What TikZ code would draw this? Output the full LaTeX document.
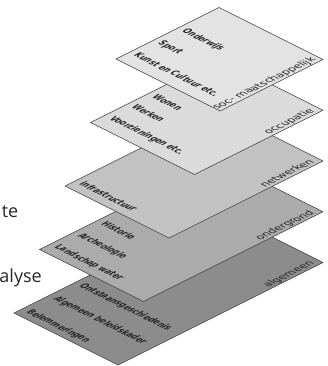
\documentclass[tikz,border=0pt]{standalone}
\usepackage{fontspec}
\setmainfont{Open Sans}
\newfontfamily\platefont{DejaVu Sans Condensed Bold}
\newfontfamily\labelfont{DejaVu Sans}
\usetikzlibrary{calc}
\newcommand{\squeezed}[1]{\scalebox{0.8}[1]{#1}}

\begin{document}
\begin{tikzpicture}[
    x=1pt, y=-1pt,
    plate/.style={draw=black!75, line width=0.6pt, line join=round},
    topic/.style={font=\platefont\fontsize{10.5}{10.5}\selectfont, text=black!85, inner sep=0pt, anchor=base west},
    layer/.style={font=\labelfont\fontsize{10.5}{10.5}\selectfont, text=black!85, inner sep=0pt, anchor=base east},
    margin/.style={font=\fontsize{18}{18}\selectfont, text=black!85, inner sep=0pt, anchor=base east},
    onplate/.style={cm={0.894,-0.447,0.894,0.447,(0,0)}, x=1pt, y=1pt, transform shape},
    onedge/.style={cm={0.894,0.447,-0.894,0.447,(0,0)}, x=1pt, y=1pt, transform shape},
]
\useasboundingbox (0,0) rectangle (328,366);

% corners of the five layers
\foreach \i/\lx/\ly/\ux in {1/116/59/103, 2/90.5/122.5/128.5, 3/65/186/154, 4/39.5/249.5/179.5, 5/14/313/205} {
    \coordinate (L\i) at (\lx,\ly);
    \coordinate (B\i) at ($(L\i)+(104,52)$);
    \coordinate (T\i) at ($(L\i)+(\ux,-\ux/2)$);
    \coordinate (R\i) at ($(B\i)+(\ux,-\ux/2)$);
}

% text cut off at the left
\node[margin] (te) at (18.5,217) {te};
\node[margin] (alyse) at (42,282) {alyse};

% algemeen
\draw[plate, fill=black!45] (L5) -- (B5) -- (R5) -- (T5) -- cycle;
\begin{scope}[shift={(L5)}, onplate]
    \node[topic] (belemmering) at (6,7) {\squeezed{Belemmeringen}};
    \node[topic] (beleid) at (6,37) {\squeezed{Algemeen beleidskader}};
    \node[topic] (ontstaan) at (6,66) {\squeezed{Ontstaansgeschiedenis}};
\end{scope}
\begin{scope}[shift={(R5)}, onedge]
    \node[layer] (algemeen) at (-6,3) {algemeen};
\end{scope}

% ondergrond
\draw[plate, fill=black!33] (L4) -- (B4) -- (R4) -- (T4) -- cycle;
\begin{scope}[shift={(L4)}, onplate]
    \node[topic] (landschap) at (6,10) {\squeezed{Landschap water}};
    \node[topic] (archeo) at (6,36) {\squeezed{Archeologie}};
    \node[topic] (historie) at (6,62) {\squeezed{Historie}};
\end{scope}
\begin{scope}[shift={(R4)}, onedge]
    \node[layer] (ondergrond) at (-6,3) {ondergrond};
\end{scope}

% netwerken
\draw[plate, fill=black!24] (L3) -- (B3) -- (R3) -- (T3) -- cycle;
\begin{scope}[shift={(L3)}, onplate]
    \node[topic] (infra) at (6,9) {\squeezed{infrastructuur}};
\end{scope}
\begin{scope}[shift={(R3)}, onedge]
    \node[layer] (netwerken) at (-6,3) {netwerken};
\end{scope}

% occupatie
\draw[plate, fill=black!14] (L2) -- (B2) -- (R2) -- (T2) -- cycle;
\begin{scope}[shift={(L2)}, onplate]
    \node[topic] (voorz) at (6,14) {\squeezed{Voorzieningen etc.}};
    \node[topic] (werken) at (6,39) {\squeezed{Werken}};
    \node[topic] (wonen) at (6,62) {\squeezed{Wonen}};
\end{scope}
\begin{scope}[shift={(R2)}, onedge]
    \node[layer] (occupatie) at (-6,3) {occupatie};
\end{scope}

% soc-maatschappelijk
\draw[plate, fill=black!11] (L1) -- (B1) -- (R1) -- (T1) -- cycle;
\begin{scope}[shift={(L1)}, onplate]
    \node[topic] (kunst) at (6,13) {\squeezed{Kunst en Cultuur etc.}};
    \node[topic] (sport) at (6,40) {\squeezed{Sport}};
    \node[topic] (onderwijs) at (6,67) {\squeezed{Onderwijs}};
\end{scope}
\begin{scope}[shift={(R1)}, onedge]
    \node[layer] (socm) at (-4,3) {soc- maatschappelijk};
\end{scope}

\end{tikzpicture}
\end{document}
